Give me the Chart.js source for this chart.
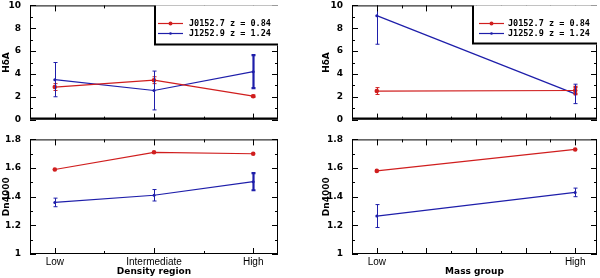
<!DOCTYPE html>
<html><head><meta charset="utf-8">
<script src="https://cdn.jsdelivr.net/npm/chart.js@4/dist/chart.umd.min.js"></script>
<style>
html,body{margin:0;padding:0;background:#fff;width:600px;height:278px;overflow:hidden;position:relative}
canvas{position:absolute;display:block}
</style></head><body>
<canvas id="c1" width="300" height="143" style="left:0;top:-9px"></canvas>
<canvas id="c2" width="300" height="153" style="left:0;top:125px"></canvas>
<canvas id="c3" width="280" height="143" style="left:320px;top:-9px"></canvas>
<canvas id="c4" width="280" height="153" style="left:320px;top:125px"></canvas>
<script>
// ---- data ----
const densityCategories = ['Low', 'Intermediate', 'High'];
const massCategories = ['Low', 'High'];
const seriesNames = ['J0152.7 z = 0.84', 'J1252.9 z = 1.24'];

const densityHdaRed = [2.85, 3.45, 2.05];
const densityHdaRedErr = [0.3, 0.3, 0.1];
const densityHdaBlue = [3.5, 2.55, 4.2];
const densityHdaBlueErr = [1.5, 1.7, 1.45];

const densityDnRed = [1.59, 1.71, 1.70];
const densityDnRedErr = [0, 0, 0];
const densityDnBlue = [1.36, 1.41, 1.505];
const densityDnBlueErr = [0.03, 0.04, 0.06];

const massHdaRed = [2.5, 2.55];
const massHdaRedErr = [0.3, 0.3];
const massHdaBlue = [9.1, 2.25];
const massHdaBlueErr = [2.5, 0.85];

const massDnRed = [1.58, 1.73];
const massDnRedErr = [0, 0];
const massDnBlue = [1.265, 1.43];
const massDnBlueErr = [0.08, 0.03];

const hdaTicks = [0, 2, 4, 6, 8, 10];
const dnTicks = [1, 1.2, 1.4, 1.6, 1.8];

// ---- styling ----
const RED = '#d01e1e', BLUE = '#1e1eaa';
const tickFont = {family: 'DejaVu Sans', size: 9, weight: 'bold'};
const catFont = {family: 'Liberation Sans', size: 10};
const titleFont = {family: 'DejaVu Sans', size: 9, weight: 'bold'};

const errorBars = {
  id: 'errorBars',
  afterDatasetsDraw(chart) {
    const {ctx, chartArea: a, scales: {x, y}} = chart;
    ctx.save();
    ctx.beginPath(); ctx.rect(a.left, a.top, a.right - a.left, a.bottom - a.top); ctx.clip();
    chart.data.datasets.forEach(ds => {
      (ds.errors || []).forEach((e, i) => {
        if (!e) return;
        const px = Math.round(x.getPixelForValue(ds.data[i].x)) + 0.5;
        const y1 = y.getPixelForValue(ds.data[i].y + e), y2 = y.getPixelForValue(ds.data[i].y - e);
        ctx.strokeStyle = ds.borderColor;
        ctx.lineWidth = (ds.errWidths && ds.errWidths[i]) || 1;
        ctx.beginPath();
        ctx.moveTo(px, y1); ctx.lineTo(px, y2);
        ctx.moveTo(px - 2, y1); ctx.lineTo(px + 2, y1);
        ctx.moveTo(px - 2, y2); ctx.lineTo(px + 2, y2);
        ctx.stroke();
      });
    });
    ctx.restore();
  }
};

const frameTicks = {
  id: 'frameTicks',
  afterDraw(chart, args, o) {
    const {ctx, chartArea: a, scales: {x, y}} = chart;
    ctx.save();
    ctx.strokeStyle = '#000';
    ctx.lineWidth = 1;
    const isMajor = (v, m) => Math.abs(v / m - Math.round(v / m)) < 1e-6;
    ctx.beginPath();
    let n = Math.round((y.max - y.min) / o.yMinor);
    for (let i = 0; i <= n; i++) {
      const v = y.min + i * o.yMinor;
      const p = Math.round(y.getPixelForValue(v)) + 0.5;
      const L = isMajor(v, o.yMajor) ? 6 : 3;
      ctx.moveTo(a.left, p); ctx.lineTo(a.left + L, p);
      ctx.moveTo(a.right, p); ctx.lineTo(a.right - L, p);
    }
    const start = Math.ceil(x.min / o.xMinor - 1e-6);
    const end = Math.floor(x.max / o.xMinor + 1e-6);
    for (let k = start; k <= end; k++) {
      const v = k * o.xMinor;
      const p = Math.round(x.getPixelForValue(v)) + 0.5;
      const L = isMajor(v, o.xMajor) ? 6 : 3;
      ctx.moveTo(p, a.bottom); ctx.lineTo(p, a.bottom - L);
      ctx.moveTo(p, a.top); ctx.lineTo(p, a.top + L);
    }
    ctx.stroke();
    ctx.strokeRect(a.left + 0.5, a.top + 0.5, a.right - a.left - 1, a.bottom - a.top - 1);
    if (o.thickBottom) {
      ctx.lineWidth = 2;
      ctx.beginPath(); ctx.moveTo(a.left, a.bottom - 1); ctx.lineTo(a.right, a.bottom - 1); ctx.stroke();
    }
    ctx.restore();
  }
};

const boxLegend = {
  id: 'boxLegend',
  afterDraw(chart, args, o) {
    if (!o.show) return;
    const {ctx, chartArea: a} = chart;
    const L = a.right - o.width, T = a.top, B = a.top + o.height;
    ctx.save();
    ctx.fillStyle = '#fff';
    ctx.fillRect(L, T, o.width, o.height);
    ctx.strokeStyle = '#000';
    ctx.lineWidth = 2;
    ctx.beginPath(); ctx.moveTo(L + 1, T); ctx.lineTo(L + 1, B - 1); ctx.lineTo(a.right, B - 1); ctx.stroke();
    ctx.font = 'bold 8.5px "DejaVu Sans Mono"';
    ctx.textBaseline = 'middle';
    chart.data.datasets.forEach((ds, i) => {
      const yy = Math.round(T + 18 + i * 10) + 0.5;
      ctx.strokeStyle = ds.borderColor; ctx.lineWidth = 1.2;
      ctx.beginPath(); ctx.moveTo(L + o.lineStart, yy); ctx.lineTo(L + o.lineStart + 25, yy); ctx.stroke();
      ctx.fillStyle = ds.borderColor;
      ctx.beginPath(); ctx.arc(L + o.lineStart + 12.5, yy, i === 0 ? 2 : 1.3, 0, Math.PI * 2); ctx.fill();
      ctx.fillStyle = '#000';
      ctx.fillText(ds.label, L + o.textStart, yy);
    });
    ctx.restore();
  }
};

function makeChart(id, cfg) {
  const ds = (label, vals, errs, color, radius, errWidths) => ({
    label, data: vals.map((v, i) => ({x: i, y: v})), errors: errs, errWidths,
    borderColor: color, backgroundColor: color, borderWidth: 1.2,
    pointRadius: radius, pointHoverRadius: radius, pointBorderWidth: 0,
    showLine: true, tension: 0, clip: false
  });
  return new Chart(document.getElementById(id), {
    type: 'line',
    data: {datasets: [
      ds(seriesNames[0], cfg.red, cfg.redErr, RED, 2.3, cfg.redW),
      ds(seriesNames[1], cfg.blue, cfg.blueErr, BLUE, 1.5, cfg.blueW)
    ]},
    plugins: [errorBars, frameTicks, boxLegend],
    options: {
      responsive: false, animation: false, devicePixelRatio: 1,
      layout: {padding: cfg.padding},
      events: [],
      scales: {
        x: {
          type: 'linear', min: cfg.xmin, max: cfg.xmax,
          display: cfg.showX,
          grid: {display: false, drawTicks: false}, border: {display: false},
          afterBuildTicks: s => { s.ticks = cfg.cats.map((c, i) => ({value: i})); },
          afterFit: s => { s.height = cfg.showX ? 24 : 0; },
          ticks: {font: catFont, color: '#000', padding: 2, maxRotation: 0, autoSkip: false,
                  callback: v => cfg.cats[v]},
          title: {display: cfg.showX, text: cfg.xTitle, font: titleFont, color: '#000', padding: {top: 0, bottom: 1}}
        },
        y: {
          min: cfg.yTicks[0], max: cfg.yTicks[cfg.yTicks.length - 1],
          grid: {display: false, drawTicks: false}, border: {display: false},
          afterBuildTicks: s => { s.ticks = cfg.yTicks.map(v => ({value: v})); },
          afterFit: s => { s.width = cfg.yWidth; },
          ticks: {font: tickFont, color: '#000', padding: 9, callback: v => String(+(+v).toFixed(1))},
          title: {display: true, text: cfg.yTitle, font: titleFont, color: '#000', padding: {top: 1, bottom: 0}}
        }
      },
      plugins: {
        legend: {display: false}, tooltip: {enabled: false},
        frameTicks: {yMinor: cfg.yMinor, yMajor: cfg.yMajor, xMinor: cfg.xMinor, xMajor: cfg.xMajor, thickBottom: !cfg.showX},
        boxLegend: cfg.legend || {show: false}
      }
    }
  });
}

makeChart('c1', {
  cats: densityCategories, xmin: -0.25, xmax: 2.25, xMinor: 0.5, xMajor: 1, showX: false,
  yTicks: hdaTicks, yMinor: 1, yMajor: 2, yWidth: 30, yTitle: 'HδA',
  red: densityHdaRed, redErr: densityHdaRedErr, blue: densityHdaBlue, blueErr: densityHdaBlueErr,
  blueW: [1, 1, 2.2],
  padding: {top: 5, bottom: 11, right: 22, left: 0},
  legend: {show: true, width: 124, height: 40, lineStart: 4, textStart: 35}
});
makeChart('c2', {
  cats: densityCategories, xmin: -0.25, xmax: 2.25, xMinor: 0.5, xMajor: 1, showX: true, xTitle: 'Density region',
  yTicks: dnTicks, yMinor: 0.1, yMajor: 0.2, yWidth: 30, yTitle: 'Dn4000',
  red: densityDnRed, redErr: densityDnRedErr, blue: densityDnBlue, blueErr: densityDnBlueErr,
  blueW: [1, 1, 2.2],
  padding: {top: 5, bottom: 0, right: 22, left: 0}
});
makeChart('c3', {
  cats: massCategories, xmin: -0.125, xmax: 1.11, xMinor: 0.125, xMajor: 0.25, showX: false,
  yTicks: hdaTicks, yMinor: 1, yMajor: 2, yWidth: 32, yTitle: 'HδA',
  red: massHdaRed, redErr: massHdaRedErr, blue: massHdaBlue, blueErr: massHdaBlueErr,
  redW: [1, 2.5],
  padding: {top: 5, bottom: 11, right: 3, left: 0},
  legend: {show: true, width: 125, height: 39, lineStart: 7, textStart: 36}
});
makeChart('c4', {
  cats: massCategories, xmin: -0.125, xmax: 1.11, xMinor: 0.125, xMajor: 0.25, showX: true, xTitle: 'Mass group',
  yTicks: dnTicks, yMinor: 0.1, yMajor: 0.2, yWidth: 32, yTitle: 'Dn4000',
  red: massDnRed, redErr: massDnRedErr, blue: massDnBlue, blueErr: massDnBlueErr,
  padding: {top: 5, bottom: 0, right: 3, left: 0}
});
</script>
</body></html>
